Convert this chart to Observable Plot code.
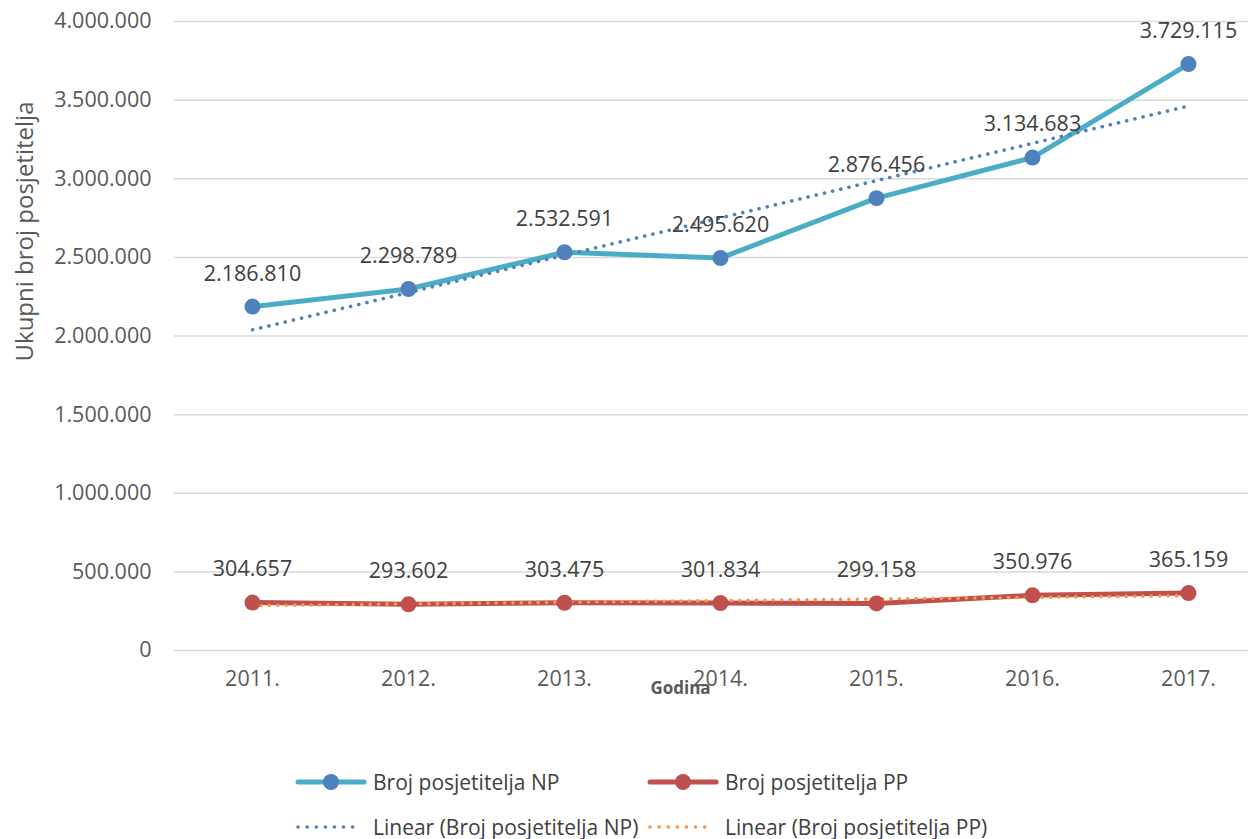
<!DOCTYPE html>
<html><head><meta charset="utf-8">
<script src="https://cdn.jsdelivr.net/npm/d3@7"></script>
<script src="https://cdn.jsdelivr.net/npm/@observablehq/plot@0.6"></script>
<style>
body{margin:0;background:#fff;font-family:"Open Sans",sans-serif;}
#wrap{position:relative;width:1253px;height:839px;}
.leg{position:absolute;display:flex;align-items:center;height:24px;font-size:21px;color:#404040;white-space:nowrap;}
.leg svg{margin-right:6px;}
</style></head>
<body><div id="wrap"><div id="chart"></div></div>
<script>
const years = [2011, 2012, 2013, 2014, 2015, 2016, 2017];
const visitorsNP = [2186810, 2298789, 2532591, 2495620, 2876456, 3134683, 3729115];
const visitorsPP = [304657, 293602, 303475, 301834, 299158, 350976, 365159];
const yTicks = [0, 500000, 1000000, 1500000, 2000000, 2500000, 3000000, 3500000, 4000000];
const seriesNames = ["Broj posjetitelja NP", "Broj posjetitelja PP"];

const loc = d3.formatLocale({decimal: ",", thousands: ".", grouping: [3], currency: ["", ""]});
const fmt = loc.format(",");

const np = years.map((y, i) => ({year: y, value: visitorsNP[i]}));
const pp = years.map((y, i) => ({year: y, value: visitorsPP[i]}));

const C = {np: "#4BACC6", npDot: "#4F81BD", pp: "#C0504D", ppTrend: "#F79646"};
const FS = 21.5;

const chart = Plot.plot({
  width: 1253, height: 730,
  marginLeft: 174, marginRight: 5, marginTop: 21, marginBottom: 80,
  style: {fontFamily: "Open Sans, sans-serif", fontSize: FS + "px", color: "#595959", background: "#fff"},
  x: {type: "linear", domain: [2011, 2017], range: [252, 1188]},
  y: {domain: [0, 4000000]},
  marks: [
    Plot.ruleY(yTicks, {stroke: "#D9D9D9", strokeWidth: 1.5}),
    Plot.axisY({ticks: yTicks, tickSize: 0, tickPadding: 23, tickFormat: fmt, label: null, fontSize: FS, fill: "#595959"}),
    Plot.axisX({ticks: years, tickSize: 0, tickPadding: 20, tickFormat: d => d + ".", label: null, fontSize: FS, fill: "#595959"}),
    Plot.text(["Ukupni broj posjetitelja"], {frameAnchor: "left", textAnchor: "middle", lineAnchor: "middle", rotate: -90, dx: -149, dy: -104.5, fontSize: 24, fill: "#595959"}),
    Plot.text(["Godina"], {frameAnchor: "bottom", dx: -31, dy: 43, fontSize: 17, fontWeight: "bold", fill: "#595959"}),
    Plot.line(np, {x: "year", y: "value", stroke: C.np, strokeWidth: 5}),
    Plot.line(pp, {x: "year", y: "value", stroke: C.pp, strokeWidth: 5}),
    Plot.linearRegressionY(np, {x: "year", y: "value", ci: 0, stroke: C.npDot, strokeWidth: 3.6, strokeDasharray: "0.1 8.3", strokeLinecap: "round"}),
    Plot.linearRegressionY(pp, {x: "year", y: "value", ci: 0, stroke: C.ppTrend, strokeWidth: 3.6, strokeDasharray: "0.1 8.3", strokeLinecap: "round"}),
    Plot.dot(np, {x: "year", y: "value", r: 8, fill: C.npDot, stroke: "none"}),
    Plot.dot(pp, {x: "year", y: "value", r: 8, fill: C.pp, stroke: "none"}),
    Plot.text(np, {x: "year", y: "value", text: d => fmt(d.value), dy: -33, fontSize: FS, fill: "#404040"}),
    Plot.text(pp, {x: "year", y: "value", text: d => fmt(d.value), dy: -33, fontSize: FS, fill: "#404040"})
  ]
});
document.getElementById("chart").appendChild(chart);

const wrap = document.getElementById("wrap");
function lineIcon(color, dot) {
  return `<svg width="72" height="24"><line x1="3" y1="12" x2="69" y2="12" stroke="${color}" stroke-width="5" stroke-linecap="round"/><circle cx="36" cy="12" r="8" fill="${dot}"/></svg>`;
}
function dotIcon(color) {
  return `<svg width="72" height="24"><line x1="3" y1="12" x2="66" y2="12" stroke="${color}" stroke-width="3.6" stroke-dasharray="0.1 9" stroke-linecap="round"/></svg>`;
}
const legendItems = [
  {left: 295, cy: 782, icon: lineIcon(C.np, C.npDot), text: seriesNames[0]},
  {left: 647, cy: 782, icon: lineIcon(C.pp, C.pp), text: seriesNames[1]},
  {left: 295, cy: 827, icon: dotIcon(C.npDot), text: "Linear (" + seriesNames[0] + ")"},
  {left: 647, cy: 827, icon: dotIcon(C.ppTrend), text: "Linear (" + seriesNames[1] + ")"}
];
for (const it of legendItems) {
  const d = document.createElement("div");
  d.className = "leg";
  d.style.left = it.left + "px";
  d.style.top = (it.cy - 12) + "px";
  d.innerHTML = it.icon + "<span>" + it.text + "</span>";
  wrap.appendChild(d);
}
</script></body></html>
